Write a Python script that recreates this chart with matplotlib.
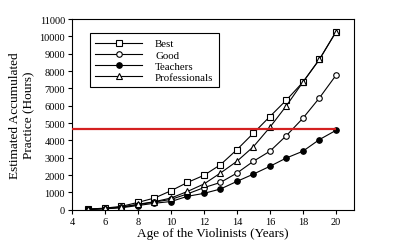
import numpy as np
import matplotlib.pyplot as plt

plt.rcParams['font.family'] = ['Liberation Serif', 'DejaVu Serif']

# Data
ages = np.arange(5, 21)
best = [40, 100, 200, 430, 680, 1100, 1580, 1990, 2600, 3470, 4420, 5380, 6330, 7360, 8670, 10250]
good = [30, 70, 150, 300, 450, 600, 920, 1280, 1580, 2120, 2800, 3380, 4280, 5280, 6450, 7750]
teachers = [20, 60, 120, 250, 380, 480, 780, 950, 1200, 1640, 2060, 2510, 2990, 3380, 4050, 4580]
professionals = [30, 80, 160, 320, 470, 680, 1060, 1490, 2120, 2800, 3640, 4760, 6000, 7360, 8670, 10250]
threshold = 4650

fig = plt.figure(figsize=(4.0, 2.51), dpi=100)
ax = fig.add_axes([0.18, 0.16, 0.705, 0.76])

kw = dict(color='black', lw=0.8, markersize=4, markeredgewidth=0.8)
ax.plot(ages, best, marker='s', markerfacecolor='white', label='Best', **kw)
ax.plot(ages, good, marker='o', markerfacecolor='white', label='Good', **kw)
ax.plot(ages, teachers, marker='o', markerfacecolor='black', label='Teachers', **kw)
ax.plot(ages, professionals, marker='^', markerfacecolor='white', label='Professionals', **kw)

# red reference line
ax.hlines(threshold, 4, ages[-1], color='#d42020', lw=1.6, zorder=5)

ax.set_xlim(4, 21.1)
ax.set_ylim(0, 11000)
ax.set_xticks(np.arange(4, 21, 2))
ax.set_yticks(np.arange(0, 11001, 1000))
ax.tick_params(labelsize=7.5, length=3, width=0.8, pad=2)

ax.set_xlabel('Age of the Violinists (Years)', fontsize=9.5, labelpad=1)
ax.set_ylabel('Estimated Accumulated\nPractice (Hours)', fontsize=9.5, labelpad=3)

leg = ax.legend(loc='upper left', bbox_to_anchor=(0.064, 0.925), fontsize=7.8,
                handlelength=4.3, handletextpad=1.2, labelspacing=0.15,
                borderpad=0.5, borderaxespad=0,
                fancybox=False, edgecolor='black', framealpha=1)
leg.get_frame().set_linewidth(0.8)

fig.savefig('out.png', dpi=100)
